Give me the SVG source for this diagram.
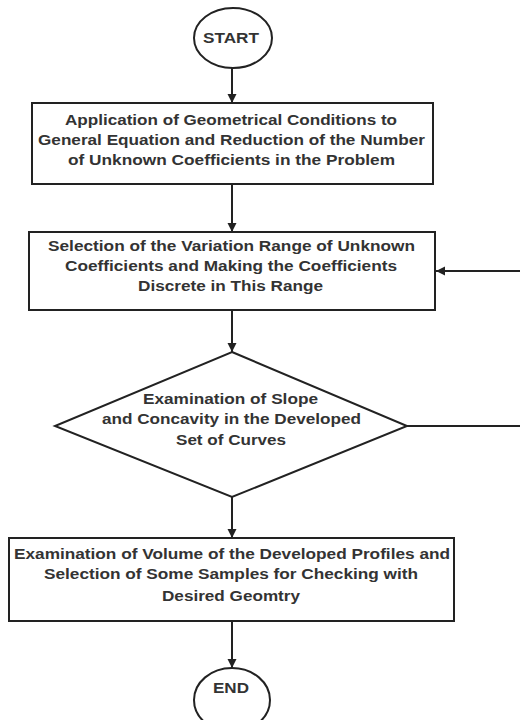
<svg xmlns="http://www.w3.org/2000/svg" width="520" height="720" viewBox="0 0 520 720">
<style>
.shape{fill:#fff;stroke:#222;stroke-width:2}
.t{font-family:"Liberation Sans",Arial,sans-serif;font-weight:bold;font-size:14px;fill:#333}
.c{fill:none;stroke:#222;stroke-width:2}
</style>
<defs>
<marker id="arr" markerWidth="10" markerHeight="10" refX="9" refY="5" orient="auto" markerUnits="userSpaceOnUse">
<path d="M0,0.5 L9,5 L0,9.5 Z" fill="#222"/>
</marker>
</defs>
<rect width="520" height="720" fill="#fff"/>
<g id="connectors">
<line class="c" x1="232" y1="68" x2="232" y2="103" marker-end="url(#arr)"/>
<line class="c" x1="232" y1="184" x2="232" y2="232" marker-end="url(#arr)"/>
<line class="c" x1="232" y1="310" x2="232" y2="352" marker-end="url(#arr)"/>
<line class="c" x1="232" y1="497" x2="232" y2="538" marker-end="url(#arr)"/>
<line class="c" x1="232" y1="621" x2="232" y2="668" marker-end="url(#arr)"/>
<polyline class="c" points="407,426 523,426 523,271 436,271" marker-end="url(#arr)"/>
</g>
<g id="start">
<ellipse class="shape" cx="233" cy="38" rx="39" ry="30"/>
<text class="t" x="231" y="43" text-anchor="middle" textLength="56" lengthAdjust="spacingAndGlyphs">START</text>
</g>
<g id="box1">
<rect class="shape" x="32" y="103" width="401" height="81"/>
<text class="t" x="65" y="125" textLength="332" lengthAdjust="spacingAndGlyphs">Application of Geometrical Conditions to</text>
<text class="t" x="38" y="145" textLength="387" lengthAdjust="spacingAndGlyphs">General Equation and Reduction of the Number</text>
<text class="t" x="68" y="165" textLength="327" lengthAdjust="spacingAndGlyphs">of Unknown Coefficients in the Problem</text>
</g>
<g id="box2">
<rect class="shape" x="29" y="232" width="406" height="78"/>
<text class="t" x="48" y="251" textLength="367" lengthAdjust="spacingAndGlyphs">Selection of the Variation Range of Unknown</text>
<text class="t" x="65" y="271" textLength="332" lengthAdjust="spacingAndGlyphs">Coefficients and Making the Coefficients</text>
<text class="t" x="138" y="291" textLength="185" lengthAdjust="spacingAndGlyphs">Discrete in This Range</text>
</g>
<g id="decision">
<polygon class="shape" points="232,352 407,426 232,497 55,426"/>
<text class="t" x="143" y="404" textLength="175" lengthAdjust="spacingAndGlyphs">Examination of Slope</text>
<text class="t" x="102" y="424" textLength="259" lengthAdjust="spacingAndGlyphs">and Concavity in the Developed</text>
<text class="t" x="176" y="445" textLength="110" lengthAdjust="spacingAndGlyphs">Set of Curves</text>
</g>
<g id="box3">
<rect class="shape" x="9" y="538" width="445" height="83"/>
<text class="t" x="14" y="559" textLength="436" lengthAdjust="spacingAndGlyphs">Examination of Volume of the Developed Profiles and</text>
<text class="t" x="44" y="579" textLength="374" lengthAdjust="spacingAndGlyphs">Selection of Some Samples for Checking with</text>
<text class="t" x="162" y="601" textLength="138" lengthAdjust="spacingAndGlyphs">Desired Geomtry</text>
</g>
<g id="end">
<ellipse class="shape" cx="232" cy="700" rx="38" ry="32"/>
<text class="t" x="231" y="693" text-anchor="middle" textLength="36" lengthAdjust="spacingAndGlyphs">END</text>
</g>
</svg>
